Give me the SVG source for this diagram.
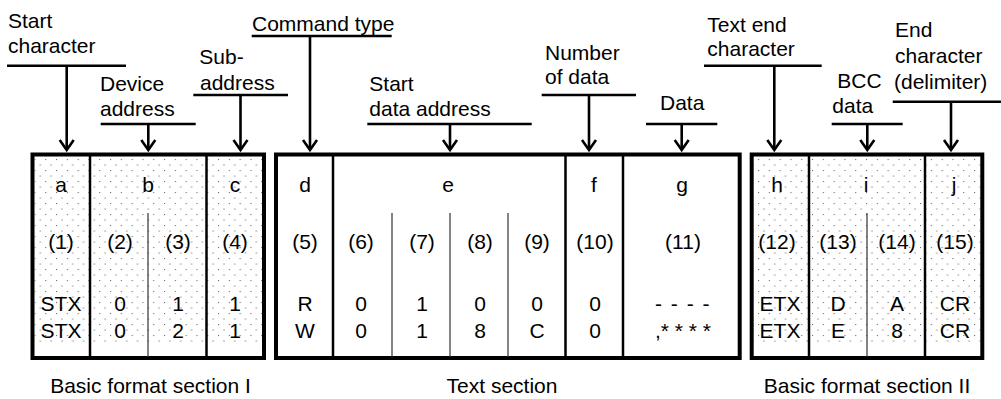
<svg xmlns="http://www.w3.org/2000/svg" width="1001" height="399" viewBox="0 0 1001 399">
<defs>
<pattern id="dots" patternUnits="userSpaceOnUse" width="10.8" height="11" x="2" y="5">
<rect x="0" y="0" width="1.1" height="1.1" fill="#6e6e6e"/>
<rect x="5.4" y="5.5" width="1.1" height="1.1" fill="#6e6e6e"/>
</pattern>
<marker id="ah" markerUnits="userSpaceOnUse" viewBox="-12 -10 16 20" markerWidth="16" markerHeight="20" refX="0" refY="0" orient="auto">
<path d="M-10,-7 L0,0 L-10,7" fill="none" stroke="#000" stroke-width="2.6"/>
</marker>
</defs>
<style>
.t{font-family:"Liberation Sans",Arial,sans-serif;font-size:21px;fill:#000}
.c{text-anchor:middle}
.frame{fill:none;stroke:#000;stroke-width:4}
.div{stroke:#000;stroke-width:2.5}
.sub{stroke:#333;stroke-width:1.2}
.ul{stroke:#000;stroke-width:2.6}
.arr{stroke:#000;stroke-width:2.6;fill:none;marker-end:url(#ah)}
.dot{fill:url(#dots)}
</style>

<!-- Frames -->
<g id="section1">
<rect class="dot" x="34.5" y="158" width="227.5" height="187"/>
<rect class="frame" x="32.5" y="154.5" width="231.5" height="203.5"/>
<line class="div" x1="90" y1="156" x2="90" y2="357"/>
<line class="div" x1="206.5" y1="156" x2="206.5" y2="357"/>
<line class="sub" x1="148" y1="213" x2="148" y2="357"/>
<g class="t c">
<text x="61" y="192">a</text><text x="148" y="192">b</text><text x="235" y="192">c</text>
<text x="61" y="249">(1)</text><text x="120" y="249">(2)</text><text x="178" y="249">(3)</text><text x="235" y="249">(4)</text>
<text x="61" y="310.5">STX</text><text x="120" y="310.5">0</text><text x="178" y="310.5">1</text><text x="235" y="310.5">1</text>
<text x="61" y="338">STX</text><text x="120" y="338">0</text><text x="178" y="338">2</text><text x="235" y="338">1</text>
</g>
<text class="t c" x="150.5" y="393">Basic format section I</text>
</g>

<g id="section2">
<rect class="frame" x="276" y="154.5" width="463.7" height="203.5"/>
<line class="div" x1="333" y1="156" x2="333" y2="357"/>
<line class="div" x1="565.5" y1="156" x2="565.5" y2="357"/>
<line class="div" x1="623" y1="156" x2="623" y2="357"/>
<line class="sub" x1="392" y1="213" x2="392" y2="357"/>
<line class="sub" x1="450" y1="213" x2="450" y2="357"/>
<line class="sub" x1="508" y1="213" x2="508" y2="357"/>
<g class="t c">
<text x="305" y="192">d</text><text x="448" y="192">e</text><text x="594" y="192">f</text><text x="682" y="192">g</text>
<text x="305" y="249">(5)</text><text x="361" y="249">(6)</text><text x="422" y="249">(7)</text><text x="480" y="249">(8)</text><text x="537" y="249">(9)</text><text x="595" y="249">(10)</text><text x="683" y="249">(11)</text>
<text x="305" y="310.5">R</text><text x="361" y="310.5">0</text><text x="422" y="310.5">1</text><text x="480" y="310.5">0</text><text x="537" y="310.5">0</text><text x="595" y="310.5">0</text><text x="683" y="310.5" letter-spacing="1.5">- - - -</text>
<text x="305" y="338">W</text><text x="361" y="338">0</text><text x="422" y="338">1</text><text x="480" y="338">8</text><text x="537" y="338">C</text><text x="595" y="338">0</text><text x="683" y="338">,* * * *</text>
</g>
<text class="t c" x="502" y="393">Text section</text>
</g>

<g id="section3">
<rect class="dot" x="753.7" y="158" width="226.6" height="187"/>
<rect class="frame" x="751.7" y="154.5" width="230.6" height="203.5"/>
<line class="div" x1="809" y1="156" x2="809" y2="357"/>
<line class="div" x1="925" y1="156" x2="925" y2="357"/>
<line class="sub" x1="867" y1="213" x2="867" y2="357"/>
<g class="t c">
<text x="777" y="192">h</text><text x="866" y="192">i</text><text x="954" y="192">j</text>
<text x="777" y="249">(12)</text><text x="838" y="249">(13)</text><text x="897" y="249">(14)</text><text x="955" y="249">(15)</text>
<text x="780" y="310.5">ETX</text><text x="838" y="310.5">D</text><text x="897" y="310.5">A</text><text x="955" y="310.5">CR</text>
<text x="780" y="338">ETX</text><text x="838" y="338">E</text><text x="897" y="338">8</text><text x="955" y="338">CR</text>
</g>
<text class="t c" x="867" y="393">Basic format section II</text>
</g>

<!-- Labels -->
<g id="lbl-start-char">
<text class="t" x="8" y="28">Start</text><text class="t" x="8" y="53">character</text>
<line class="ul" x1="7" y1="65.7" x2="126" y2="65.7"/>
</g>
<g id="lbl-device-address">
<text class="t" x="100" y="90.7">Device</text><text class="t" x="100" y="116">address</text>
<line class="ul" x1="100.7" y1="124" x2="195.7" y2="124"/>
</g>
<g id="lbl-sub-address">
<text class="t" x="199.3" y="64.3">Sub-</text><text class="t" x="200" y="90">address</text>
<line class="ul" x1="193.3" y1="95" x2="288" y2="95"/>
</g>
<g id="lbl-command-type">
<text class="t" x="252" y="31">Command type</text>
<line class="ul" x1="251.7" y1="36" x2="391.7" y2="36"/>
</g>
<g id="lbl-start-data-address">
<text class="t" x="369.3" y="90.7">Start</text><text class="t" x="369.3" y="116">data address</text>
<line class="ul" x1="367.3" y1="124" x2="531.7" y2="124"/>
</g>
<g id="lbl-number-of-data">
<text class="t" x="545" y="60">Number</text><text class="t" x="545" y="84.3">of data</text>
<line class="ul" x1="541.7" y1="95" x2="636" y2="95"/>
</g>
<g id="lbl-data">
<text class="t" x="660" y="110">Data</text>
<line class="ul" x1="646" y1="124" x2="717.3" y2="124"/>
</g>
<g id="lbl-text-end">
<text class="t" x="707.3" y="31.7">Text end</text><text class="t" x="707.3" y="56">character</text>
<line class="ul" x1="704" y1="65.7" x2="821.7" y2="65.7"/>
</g>
<g id="lbl-bcc">
<text class="t" x="837.3" y="88.3">BCC</text><text class="t" x="832.3" y="112.7">data</text>
<line class="ul" x1="831.7" y1="124" x2="902.7" y2="124"/>
</g>
<g id="lbl-end-char">
<text class="t" x="895" y="37.3">End</text><text class="t" x="895" y="63.3">character</text><text class="t" x="894" y="89.3">(delimiter)</text>
<line class="ul" x1="892.7" y1="101.7" x2="1001" y2="101.7"/>
</g>

<!-- Connectors -->
<g id="connectors">
<line class="arr" x1="66.7" y1="65.7" x2="66.7" y2="150"/>
<line class="arr" x1="148.3" y1="124" x2="148.3" y2="150"/>
<line class="arr" x1="240.5" y1="95" x2="240.5" y2="150"/>
<line class="arr" x1="310" y1="36" x2="310" y2="150"/>
<line class="arr" x1="450" y1="124" x2="450" y2="150"/>
<line class="arr" x1="589" y1="95" x2="589" y2="150"/>
<line class="arr" x1="681.7" y1="124" x2="681.7" y2="150"/>
<line class="arr" x1="774.3" y1="65.7" x2="774.3" y2="150"/>
<line class="arr" x1="867.3" y1="124" x2="867.3" y2="150"/>
<line class="arr" x1="951" y1="101.7" x2="951" y2="150"/>
</g>
</svg>
